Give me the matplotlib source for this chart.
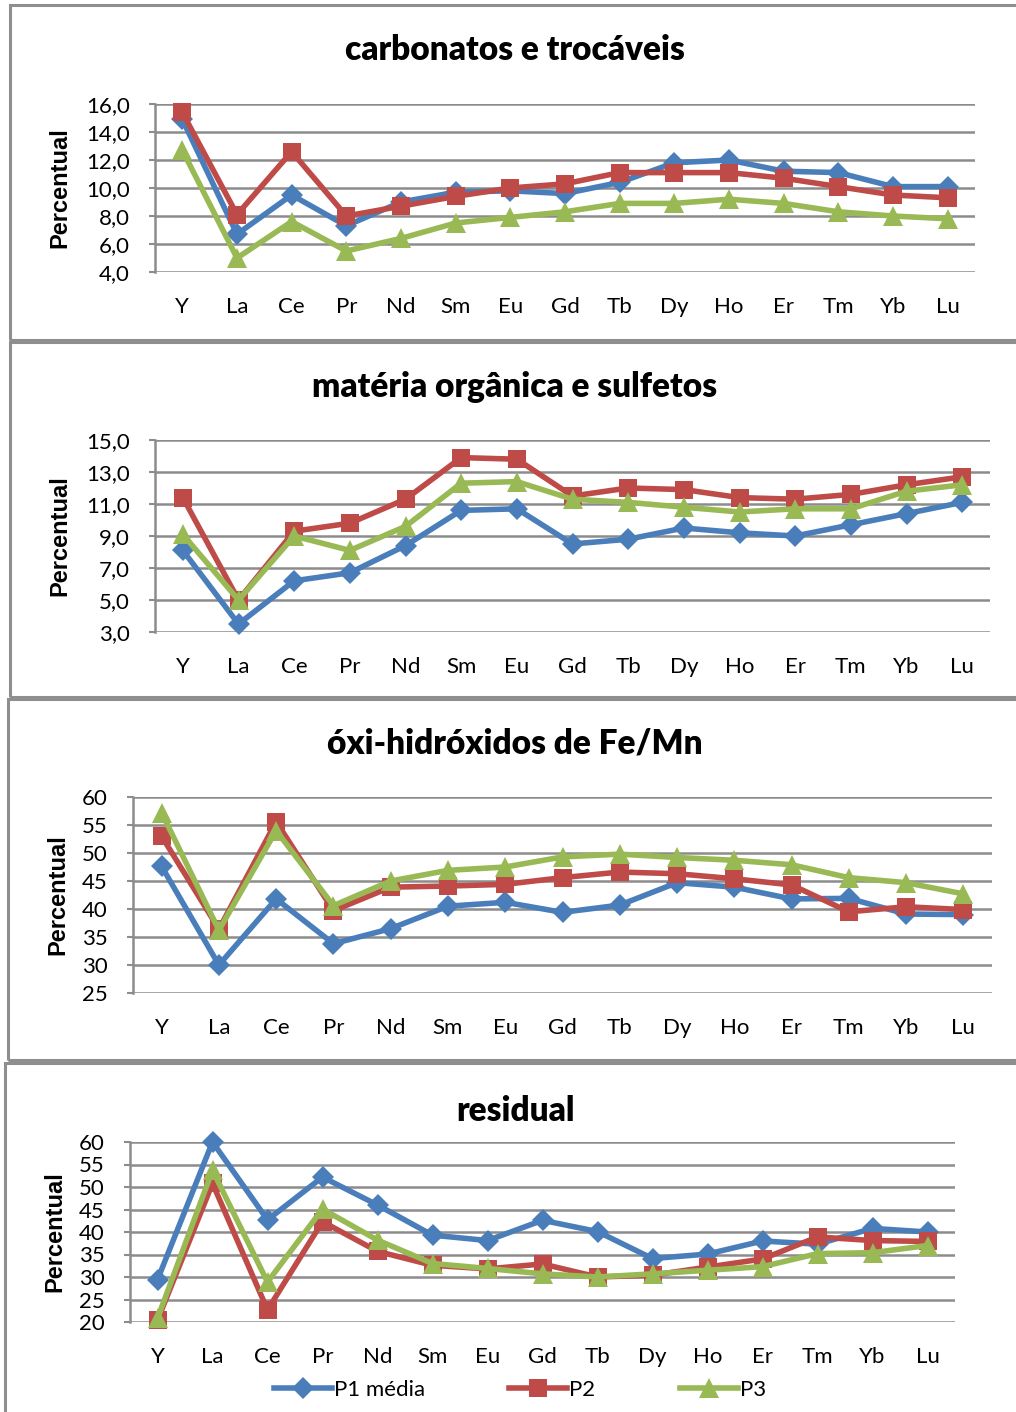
import numpy as np
import matplotlib
matplotlib.use("Agg")
import matplotlib.pyplot as plt
from matplotlib.patches import Rectangle

# element labels (x axis)
elements = ["Y", "La", "Ce", "Pr", "Nd", "Sm", "Eu", "Gd", "Tb", "Dy", "Ho", "Er", "Tm", "Yb", "Lu"]

# carbonatos e trocáveis
carb_p1 = [14.9, 6.7, 9.5, 7.3, 9.0, 9.7, 9.8, 9.6, 10.4, 11.8, 12.0, 11.2, 11.1, 10.1, 10.1]
carb_p2 = [15.4, 8.1, 12.6, 8.0, 8.7, 9.4, 10.0, 10.3, 11.1, 11.1, 11.1, 10.7, 10.1, 9.5, 9.3]
carb_p3 = [12.7, 5.0, 7.6, 5.5, 6.4, 7.5, 7.9, 8.3, 8.9, 8.9, 9.2, 8.9, 8.3, 8.0, 7.8]

# matéria orgânica e sulfetos
org_p1 = [8.1, 3.5, 6.2, 6.7, 8.4, 10.6, 10.7, 8.5, 8.8, 9.5, 9.2, 9.0, 9.7, 10.4, 11.1]
org_p2 = [11.4, 5.0, 9.3, 9.8, 11.3, 13.9, 13.8, 11.5, 12.0, 11.9, 11.4, 11.3, 11.6, 12.2, 12.7]
org_p3 = [9.1, 5.0, 9.0, 8.1, 9.6, 12.3, 12.4, 11.3, 11.1, 10.8, 10.5, 10.7, 10.7, 11.8, 12.2]

# óxi-hidróxidos de Fe/Mn
oxi_p1 = [47.6, 30.0, 41.8, 33.8, 36.5, 40.5, 41.2, 39.4, 40.7, 44.7, 43.9, 41.8, 41.9, 39.1, 39.0]
oxi_p2 = [53.0, 36.4, 55.6, 39.7, 43.9, 44.1, 44.4, 45.6, 46.6, 46.3, 45.4, 44.3, 39.5, 40.4, 39.9]
oxi_p3 = [57.2, 36.2, 54.0, 40.6, 45.0, 46.9, 47.5, 49.3, 49.8, 49.2, 48.7, 47.9, 45.6, 44.7, 42.7]

# residual
res_p1 = [29.4, 60.0, 42.7, 52.2, 46.0, 39.3, 38.1, 42.6, 40.1, 34.1, 35.1, 38.0, 37.3, 40.8, 40.0]
res_p2 = [20.4, 50.8, 22.7, 42.3, 35.7, 32.6, 31.8, 32.9, 30.0, 30.4, 32.2, 34.0, 38.9, 38.1, 37.9]
res_p3 = [20.8, 53.7, 28.9, 45.1, 38.2, 33.0, 31.9, 30.7, 30.0, 30.7, 31.5, 32.3, 35.2, 35.4, 37.0]

series_names = ["P1 média", "P2", "P3"]
colors = ["#4A7EBB", "#BE4B48", "#98B954"]
markers = ["D", "s", "^"]
msizes = [11, 13, 14]

W, H = 1016, 1412
fig = plt.figure(figsize=(W / 100, H / 100), dpi=100)
fig.patch.set_facecolor("white")

tick_font = "Lato"
grid_c = "#8C8C8C"


def rect(x0, y0, x1, y1):
    return [x0 / W, 1 - y1 / H, (x1 - x0) / W, (y1 - y0) / H]


def border(x0, y0, x1, y1):
    fig.add_artist(Rectangle((x0 / W, 1 - y1 / H), (x1 - x0) / W, (y1 - y0) / H,
                             transform=fig.transFigure, fill=False,
                             edgecolor="#8E8E8E", linewidth=2.2))


# title, series, axes box (px), y ticks, tick format, title y (px), y label x (px)
panels = [
    ("carbonatos e trocáveis", [carb_p1, carb_p2, carb_p3], (155, 104, 975, 272),
     np.arange(4, 16.01, 2), "{:.1f}", 50, 71),
    ("matéria orgânica e sulfetos", [org_p1, org_p2, org_p3], (155, 440, 990, 632),
     np.arange(3, 15.01, 2), "{:.1f}", 387, 71),
    ("óxi-hidróxidos de Fe/Mn", [oxi_p1, oxi_p2, oxi_p3], (133, 797, 992, 993),
     np.arange(25, 60.01, 5), "{:.0f}", 743, 69),
    ("residual", [res_p1, res_p2, res_p3], (130, 1142, 955, 1322),
     np.arange(20, 60.01, 5), "{:.0f}", 1111, 66),
]

border(10, 5, 1030, 340)
border(10, 342, 1030, 697)
border(8, 699, 1030, 1060)
border(5, 1063, 1030, 1430)

x = np.arange(len(elements))
lines = []
for title, data, box, yt, fmt, ty, lx in panels:
    ax = fig.add_axes(rect(*box))
    for vals, c, m, ms, name in zip(data, colors, markers, msizes, series_names):
        ln, = ax.plot(x, vals, color=c, lw=4, marker=m, markersize=ms,
                      markeredgewidth=0, label=name, clip_on=False, zorder=3)
        if len(lines) < 3:
            lines.append(ln)
    ax.set_xlim(-0.5, len(elements) - 0.5)
    ax.set_ylim(yt[0], yt[-1])
    ax.set_yticks(yt)
    ax.set_yticklabels([fmt.format(v).replace(".", ",") for v in yt],
                       fontsize=16, family=tick_font)
    ax.set_xticks(x)
    ax.set_xticklabels(elements, fontsize=16, family=tick_font)
    ax.tick_params(axis="x", length=0, pad=18)
    ax.tick_params(axis="y", length=4, width=1.5, color=grid_c, pad=14)
    ax.yaxis.grid(True, color=grid_c, lw=1.8)
    ax.set_axisbelow(True)
    for s in ["top", "right", "bottom"]:
        ax.spines[s].set_visible(False)
    ax.spines["left"].set_color(grid_c)
    ax.spines["left"].set_linewidth(1.8)
    ax.set_ylabel("Percentual", fontsize=17, fontweight="bold",
                  family="Liberation Sans")
    ax.yaxis.set_label_coords((lx - box[0]) / (box[2] - box[0]), 0.5)
    fig.text(515 / W, 1 - ty / H, title, ha="center", va="center",
             fontsize=24, fontweight="heavy", family=tick_font)

fig.legend(handles=lines, labels=series_names, loc="center",
           bbox_to_anchor=(520 / W, 1 - 1390 / H), ncol=3, frameon=False,
           prop={"family": tick_font, "size": 16}, handlelength=2.6,
           handletextpad=0.1, columnspacing=3.8)

fig.savefig("out.png", dpi=100, facecolor="white")
